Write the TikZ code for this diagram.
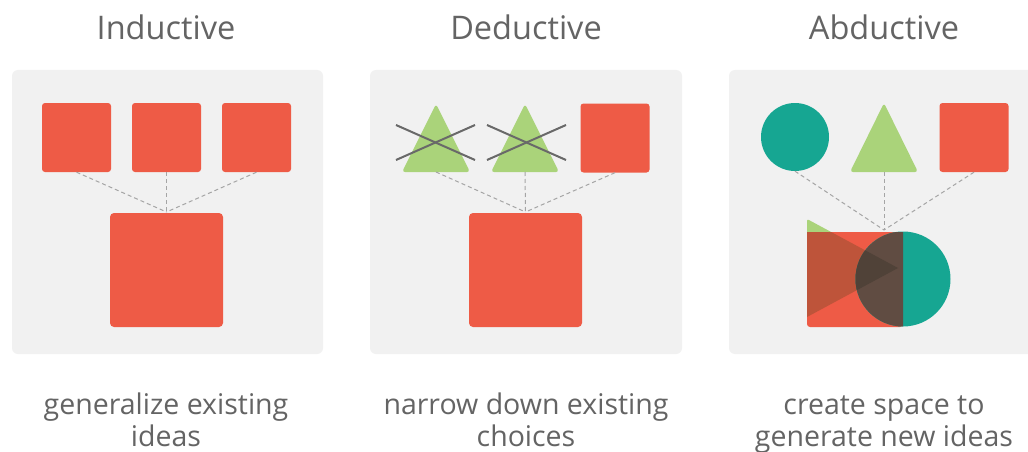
\documentclass[tikz,border=0pt]{standalone}
\usepackage{fontspec}
\setmainfont{Open Sans}
\begin{document}
\definecolor{panelbg}{RGB}{241,241,241}
\definecolor{coral}{RGB}{238,91,70}
\definecolor{leaf}{RGB}{170,211,122}
\definecolor{teal}{RGB}{22,166,146}
\definecolor{txt}{RGB}{100,100,100}
\definecolor{dashc}{RGB}{165,165,165}
\definecolor{crossc}{RGB}{105,105,105}
\definecolor{redleaf}{RGB}{190,84,58}
\definecolor{redteal}{RGB}{96,76,66}
\definecolor{darkmix}{RGB}{80,66,56}
\begin{tikzpicture}[x=1pt,y=-1pt,
  panel/.style={fill=panelbg,rounded corners=6pt},
  smallsq/.style={fill=coral,rounded corners=3pt,minimum width=69pt,minimum height=69pt,inner sep=0pt},
  bigsq/.style={fill=coral,rounded corners=4pt,minimum width=113pt,minimum height=114pt,inner sep=0pt},
  dot/.style={fill=teal,circle,minimum size=68pt,inner sep=0pt},
  link/.style={draw=dashc,line width=1pt,dash pattern=on 4pt off 3pt},
  cross/.style={draw=crossc,line width=2pt},
  tri/.style={fill=leaf,rounded corners=3pt},
  title/.style={font=\fontsize{32.5}{32.5}\selectfont,text=txt,anchor=base},
  caption/.style={font=\fontsize{28.5}{32}\selectfont,text=txt,align=center,anchor=base}
]
\useasboundingbox (0,0) rectangle (1028,452);
\fill[white] (0,0) rectangle (1028,452);

% background panels
\fill[panel] (12,70) rectangle (323,354);
\fill[panel] (370,70) rectangle (682,354);
\fill[panel] (729,70) rectangle (1040,354);

% titles
\node[title] (t1) at (166,40) {Inductive};
\node[title] (t2) at (526,40) {Deductive};
\node[title] (t3) at (884,40) {Abductive};

% captions (base anchor sits on the last line)
\node[caption] (c1) at (166,446) {generalize existing\\ideas};
\node[caption] (c2) at (526,446) {narrow down existing\\choices};
\node[caption] (c3) at (884,446) {create space to\\generate new ideas};

% ---- inductive ----
\node[smallsq] (ia) at (76.5,137.5) {};
\node[smallsq] (ib) at (166.5,137.5) {};
\node[smallsq] (ic) at (256.5,137.5) {};
\node[bigsq] (ibig) at (166.5,270) {};
\coordinate (imeet) at (166.5,212);
\foreach \s in {ia,ib,ic} \draw[link] (\s.south) -- (imeet);

% ---- deductive ----
\fill[tri] (402,172) -- (436,104) -- (470,172) -- cycle;
\fill[tri] (491,172) -- (525,104) -- (559,172) -- cycle;
\coordinate (da) at (436,172);
\coordinate (db) at (525,172);
\draw[cross] (396,125) -- (475,160);
\draw[cross] (396,160) -- (475,125);
\draw[cross] (487,125) -- (566,160);
\draw[cross] (487,160) -- (566,125);
\node[smallsq] (dc) at (615,138) {};
\node[bigsq] (dbig) at (525.5,270) {};
\coordinate (dmeet) at (525.5,212);
\foreach \s in {da,db,dc.south} \draw[link] (\s) -- (dmeet);

% ---- abductive ----
\node[dot] (aa) at (795,137) {};
\fill[tri] (850,172) -- (884,103) -- (918,172) -- cycle;
\coordinate (ab) at (884,172);
\node[smallsq] (ac) at (974,137.5) {};
\coordinate (ameet) at (884,230);
\foreach \s in {aa.south,ab,ac.south} \draw[link] (\s) -- (ameet);

% combined shape: rectangle, triangle and circle laid over each other
\def\abrect{(807,232) rectangle (903,327)}
\def\abtri{(807,219) -- (898,268) -- (807,317) -- cycle}
\def\abcirc{(903,279) circle (47.5)}
\fill[leaf,rounded corners=2pt] \abtri;
\fill[coral,rounded corners=3pt] \abrect;
\begin{scope}
  \clip \abrect;
  \fill[redleaf] \abtri;
\end{scope}
\fill[teal] \abcirc;
\begin{scope}
  \clip \abrect;
  \fill[redteal] \abcirc;
  \clip \abtri;
  \fill[darkmix] \abcirc;
\end{scope}
\end{tikzpicture}
\end{document}
